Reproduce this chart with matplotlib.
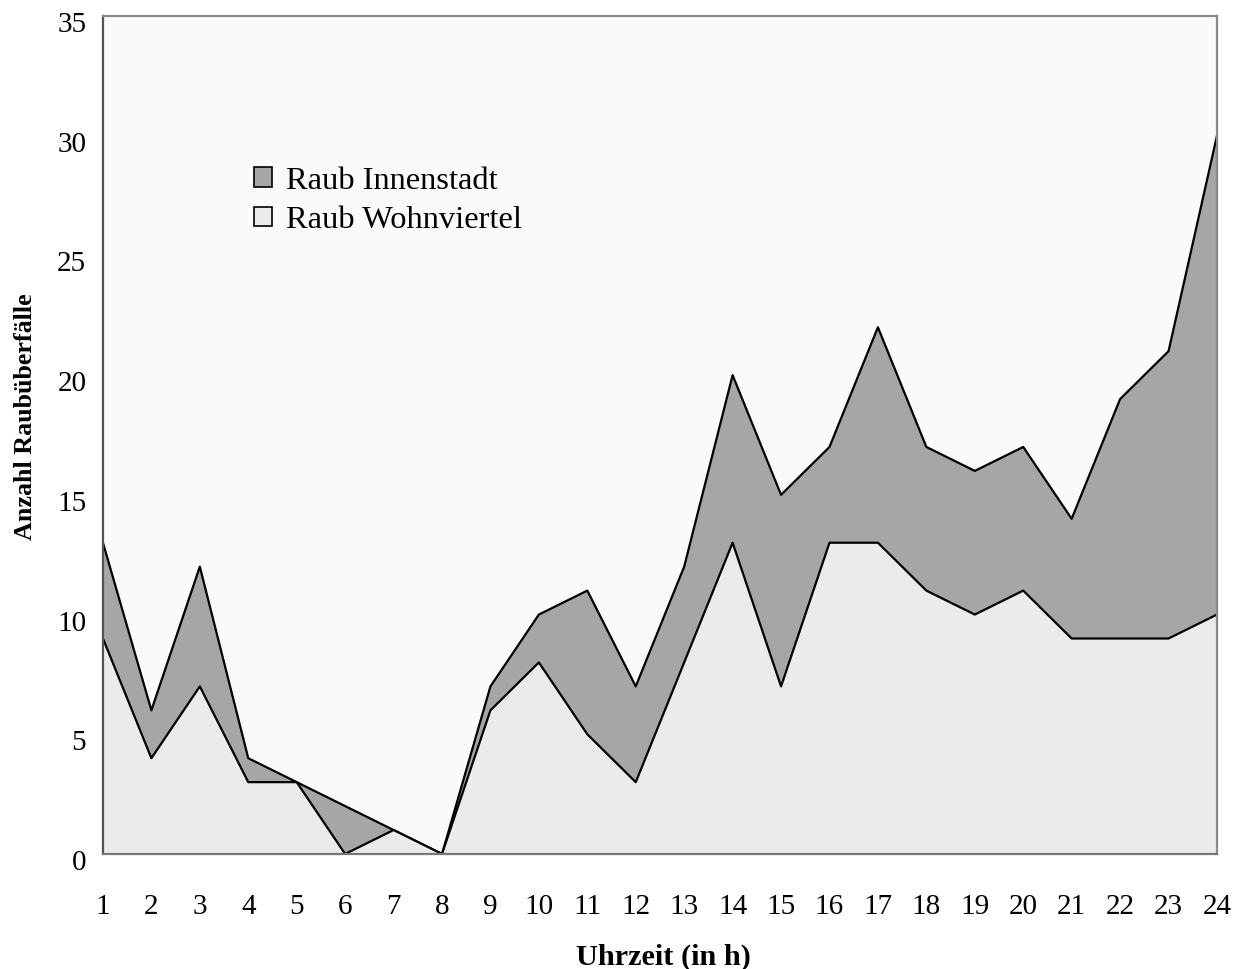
import matplotlib
matplotlib.use("Agg")
import matplotlib.pyplot as plt
from matplotlib.patches import Patch
from matplotlib.transforms import ScaledTranslation

hours = list(range(1, 25))
innenstadt = [13, 6, 12, 4, 3, 2, 1, 0, 7, 10, 11, 7, 12, 20, 15, 17, 22, 17, 16, 17, 14, 19, 21, 30]
wohnviertel = [9, 4, 7, 3, 3, 0, 1, 0, 6, 8, 5, 3, 8, 13, 7, 13, 13, 11, 10, 11, 9, 9, 9, 10]
yticks = [0, 5, 10, 15, 20, 25, 30, 35]

plt.rcParams['font.family'] = ['Liberation Serif', 'DejaVu Serif']

fig = plt.figure(figsize=(12.33, 9.69), dpi=100)
ax = fig.add_axes([0.0835, 0.1187, 0.9035, 0.8648])
ax.set_facecolor('#fafafa')

dark = '#a6a6a6'
light = '#ebebeb'
ax.fill_between(hours, 0, innenstadt, facecolor=dark, edgecolor='none', zorder=2)
ax.plot(hours, innenstadt, color='black', lw=1.6, zorder=3)
ax.fill_between(hours, 0, wohnviertel, facecolor=light, edgecolor='none', zorder=4)
ax.plot(hours, wohnviertel, color='black', lw=1.6, zorder=5)

ax.set_xlim(1, 24)
ax.set_ylim(0, 35)
ax.set_xticks(hours)
ax.set_yticks(yticks)
ax.tick_params(axis='both', length=0, labelsize=21)
ax.tick_params(axis='x', pad=29)
ax.tick_params(axis='y', pad=12)
shift = ScaledTranslation(0, -0.06, fig.dpi_scale_trans)
for lab in ax.get_yticklabels():
    lab.set_transform(lab.get_transform() + shift)

for s in ax.spines.values():
    s.set_color('#8a8a8a')
    s.set_linewidth(1.6)
    s.set_zorder(6)
ax.spines['left'].set_color('#555555')
ax.spines['bottom'].set_color('#777777')

ax.set_xlabel('Uhrzeit (in h)', fontsize=21.8, fontweight='bold')
ax.xaxis.set_label_coords(0.503, -0.107)
ax.set_ylabel('Anzahl Raubüberfälle', fontsize=18.7, fontweight='bold')
ax.yaxis.set_label_coords(-0.059, 0.5215)

handles = [Patch(facecolor=dark, edgecolor='black', lw=1.2, label='Raub Innenstadt'),
           Patch(facecolor=light, edgecolor='black', lw=1.2, label='Raub Wohnviertel')]
ax.legend(handles=handles, loc='upper left', bbox_to_anchor=(0.1095, 0.855), frameon=False,
          fontsize=23.4, handlelength=0.55, handleheight=0.55, handletextpad=0.43,
          labelspacing=0.32, borderpad=0.4)

fig.savefig('out.png', dpi=100)
